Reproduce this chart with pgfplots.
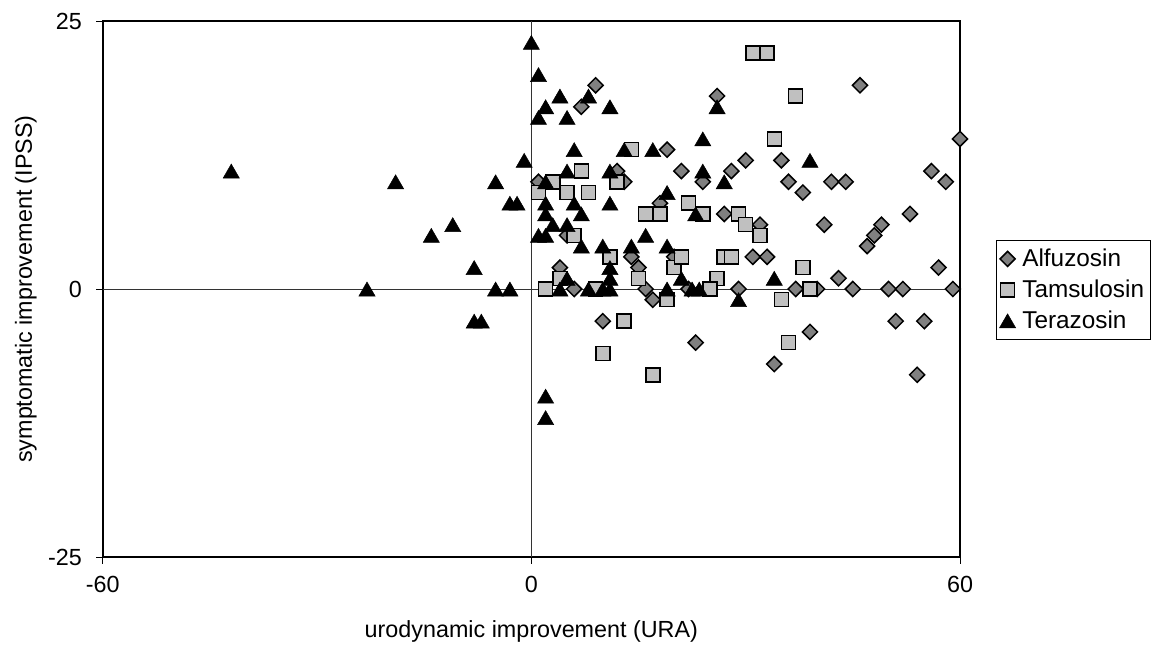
\documentclass[border=0pt]{standalone}
\usepackage{fontspec}
\setmainfont{Liberation Sans}
\usepackage{pgfplots}
\usepackage{pgfplotstable}
\pgfplotsset{compat=1.18}
\pgfplotstableread{
x y
9 19
7 17
19 13
21 11
12 11
1 10
13 10
18 8
5 5
14 3
4 2
15 2
6 0
16 0
17 -1
26 18
46 19
60 14
30 12
35 12
28 11
24 10
36 10
38 9
42 10
44 10
56 11
58 10
27 7
32 6
41 6
49 6
48 5
47 4
53 7
31 3
33 3
57 2
43 1
29 0
37 0
40 0
45 0
50 0
52 0
59 0
22 0
20 3
10 -3
23 -5
39 -4
34 -7
51 -3
55 -3
54 -8
}\alfu
\pgfplotstableread{
x y
14 13
7 11
3 10
12 10
1 9
5 9
8 9
16 7
18 7
6 5
11 3
20 2
4 1
15 1
2 0
9 0
19 -1
31 22
33 22
37 18
34 14
22 8
24 7
29 7
30 6
32 5
21 3
27 3
28 3
38 2
26 1
25 0
39 0
35 -1
13 -3
10 -6
17 -8
36 -5
}\tams
\pgfplotstableread{
x y
-42 11
-23 0
0 23
1 20
4 18
8 18
2 17
11 17
1 16
5 16
6 13
13 13
17 13
-1 12
-19 10
-5 10
5 11
11 11
2 10
19 9
-3 8
-2 8
2 8
6 8
11 8
2 7
7 7
-11 6
-14 5
3 6
5 6
1 5
2 5
7 4
10 4
14 4
16 5
19 4
-8 2
11 2
5 1
11 1
-5 0
-3 0
4 0
8 0
10 0
11 0
19 0
26 17
24 14
39 12
24 11
27 10
23 7
34 1
21 1
22.5 0
23.5 0
29 -1
-8 -3
-7 -3
2 -10
2 -12
}\tera
\definecolor{dgray}{RGB}{128,128,128}
\definecolor{lgray}{RGB}{192,192,192}
\begin{document}
\begin{tikzpicture}
\path[use as bounding box] (-61.6pt,-57pt) rectangle (630.8pt,334.2pt);
\begin{axis}[
  scale only axis, width=514.4pt, height=321.6pt,
  xmin=-60, xmax=60, ymin=-25, ymax=25,
  xtick={-60,0,60}, ytick={-25,0,25},
  axis line style={line width=1.4pt},
  tick align=outside, major tick length=4pt,
  xtick pos=bottom, ytick pos=left,
  tick style={black, line width=0.6pt},
  /pgf/number format/assume math mode=true,
  ticklabel style={font=\fontsize{14}{16}\selectfont},
  yticklabel style={xshift=-5pt},
  xticklabel style={yshift=-4pt},
  xlabel={urodynamic improvement (URA)},
  ylabel={symptomatic improvement (IPSS)},
  every axis x label/.style={at={(axis description cs:0.5,0)}, anchor=base, yshift=-48pt, font=\fontsize{14}{16}\selectfont},
  every axis y label/.style={at={(axis description cs:0,0.5)}, xshift=-42.4pt, rotate=90, anchor=base, font=\fontsize{14}{16}\selectfont},
  legend style={at={(1.0416,0.5914)}, anchor=north west, draw=black, line width=0.6pt,
    font=\fontsize{14.6}{16.5}\selectfont, row sep=2.5pt, column sep=2pt, inner xsep=2pt, inner ysep=3pt},
  legend cell align=left,
  clip=false,
]
\draw[line width=0.6pt, black!80] (axis cs:-60,0) -- (axis cs:60,0);
\draw[line width=0.6pt, black!80] (axis cs:0,-25) -- (axis cs:0,25);
\addplot[only marks, mark=square*, mark size=3.2pt, mark options={rotate=45, fill=dgray, draw=black, line width=0.9pt}] table {\alfu};
\addlegendentry{Alfuzosin}
\addplot[only marks, mark=square*, mark size=4.2pt, mark options={fill=lgray, draw=black, line width=0.9pt}] table {\tams};
\addlegendentry{Tamsulosin}
\addplot[only marks, mark=triangle*, mark size=5.6pt, mark options={yshift=-1.4pt, fill=black, draw=black, line width=0.3pt}] table {\tera};
\addlegendentry{Terazosin}
\end{axis}
\end{tikzpicture}
\end{document}
